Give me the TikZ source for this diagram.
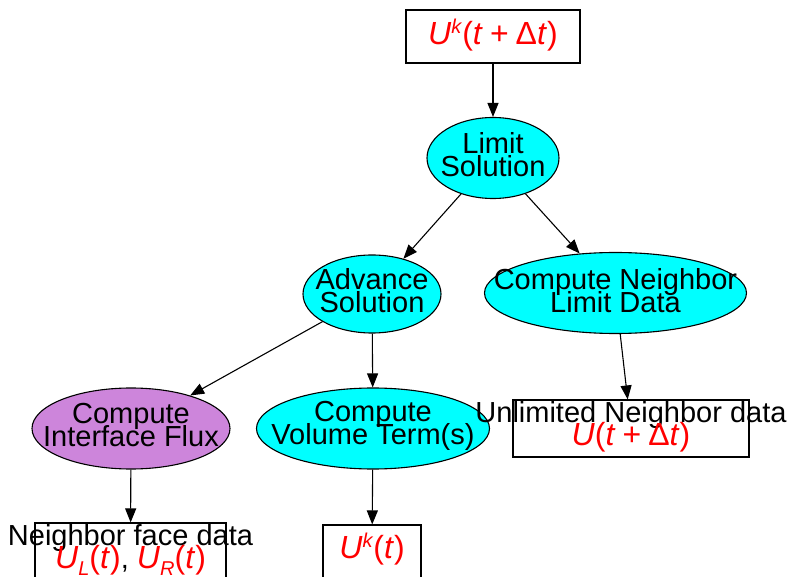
\documentclass[tikz,border=0pt]{standalone}
\usepackage{fontspec}
\setmainfont{Liberation Sans}
\usetikzlibrary{shapes.geometric}
\usetikzlibrary{arrows.meta}
\definecolor{fluxpurple}{RGB}{205,133,219}
\definecolor{aqua}{RGB}{0,255,255}
\newcommand{\tightlines}{\setlength{\lineskiplimit}{-30pt}}
\tikzset{task node/.style={ellipse,draw,fill=aqua,inner sep=0pt,line width=1.1pt}}
\tikzset{data node/.style={rectangle,draw,fill=white,inner sep=0pt,line width=1.1pt}}
\tikzset{label text/.style={align=center,inner sep=0pt,font={\fontsize{29}{23}\selectfont\tightlines}}}
% red formulas, set a bit larger than the words
\newcommand{\var}[1]{\textit{#1}}
\newcommand{\redm}[1]{{\fontsize{32}{23}\selectfont\color{red}#1}}
\newcommand{\supk}{\raisebox{0.36em}{\fontsize{20}{20}\selectfont\var{k}}}
\newcommand{\subs}[1]{\raisebox{-0.2em}{\fontsize{20}{20}\selectfont\var{#1}}}
\newcommand{\plus}{\hspace{0.22em}+\hspace{0.22em}}

\begin{document}
\begin{tikzpicture}[x=1pt,y=-1pt,>={Triangle[length=14pt,width=11pt]}]
    \clip (0,0) rectangle (790,577);

    % boxes and ellipses, sized by hand
    \node[data node,minimum width=174pt,minimum height=53pt] (u_{new}) at (493,36.5) {};
    \node[task node,minimum width=132pt,minimum height=81pt] (limit) at (493,158) {};
    \node[task node,minimum width=138pt,minimum height=78pt] (advance) at (372,294) {};
    \node[task node,minimum width=262pt,minimum height=81pt] (nbr limit) at (615.5,293) {};
    \node[task node,fill=fluxpurple,minimum width=198pt,minimum height=81pt] (flux) at (131,428.5) {};
    \node[task node,minimum width=233pt,minimum height=81pt] (volume) at (373,428.5) {};
    \node[data node,minimum width=236pt,minimum height=57pt] (u_{nbr}) at (631,428.5) {};
    \node[data node,minimum width=191pt,minimum height=57pt] (u_{face}) at (130.5,551.5) {};
    \node[data node,minimum width=98pt,minimum height=53pt] (u_{old}) at (372,551.5) {};

    \path [->,line width=1.1pt]
    (u_{new}) edge (limit)
    (limit) edge (advance)
    (limit) edge (nbr limit)
    (advance) edge (flux)
    (advance) edge (volume)
    (nbr limit) edge (u_{nbr})
    (flux) edge (u_{face})
    (volume) edge (u_{old});

    % texts go on top, they may run past the borders
    \node[label text] (t_{new}) at (493,35) {\redm{\var{U}\supk(\var{t}\plus Δ\var{t})}};
    \node[label text] (t_{limit}) at (493,155) {Limit\\Solution};
    \node[label text] (t_{advance}) at (372,291) {Advance\\Solution};
    \node[label text] (t_{nbr limit}) at (615.5,291) {Compute Neighbor\\Limit Data};
    \node[label text] (t_{flux}) at (131,425.5) {Compute\\Interface Flux};
    \node[label text] (t_{volume}) at (373,425.5) {Compute\\Volume Term(s)};
    \node[label text] (t_{nbr}) at (631,427) {Unlimited Neighbor data\\\redm{\var{U}(\var{t}\plus Δ\var{t})}};
    \node[label text] (t_{face}) at (130.5,550) {Neighbor face data\\\redm{\var{U}\subs{L}(\var{t})}, \redm{\var{U}\subs{R}(\var{t})}};
    \node[label text] (t_{old}) at (372,549) {\redm{\var{U}\supk(\var{t})}};
\end{tikzpicture}
\end{document}
